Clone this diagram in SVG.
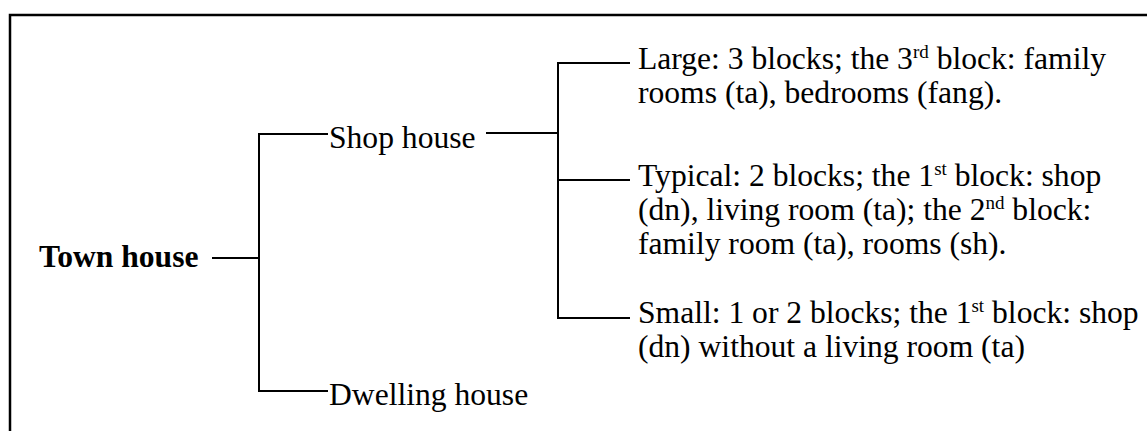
<svg xmlns="http://www.w3.org/2000/svg" width="1147" height="431" viewBox="0 0 1147 431">
<style>
  text { font-family: "Liberation Serif", "Times New Roman", serif; font-size: 31.6px; fill: #000; }
  .b { font-weight: bold; }
  .sup { font-size: 19px; baseline-shift: 11px; }
  .ln { stroke: #000; stroke-width: 2; fill: none; }
</style>
<rect width="1147" height="431" fill="#fff"/>
<path d="M10,431 V15 H1147" stroke="#000" stroke-width="2.5" fill="none"/>
<g id="connectors">
  <path class="ln" d="M212,258 H259"/>
  <path class="ln" d="M328,134 H259 V391 H328"/>
  <path class="ln" d="M486,133 H558"/>
  <path class="ln" d="M630,63 H558 V318 H630"/>
  <path class="ln" d="M558,180 H630"/>
</g>
<g id="town-house"><text class="b" x="39" y="267">Town house</text></g>
<g id="shop-house"><text x="329" y="148">Shop house</text></g>
<g id="dwelling-house"><text x="329" y="405">Dwelling house</text></g>
<g id="large">
  <text x="638" y="69">Large: 3 blocks; the 3<tspan class="sup">rd</tspan> block: family</text>
  <text x="638" y="103">rooms (ta), bedrooms (fang).</text>
</g>
<g id="typical">
  <text x="638" y="186">Typical: 2 blocks; the 1<tspan class="sup">st</tspan> block: shop</text>
  <text x="638" y="220">(dn), living room (ta); the 2<tspan class="sup">nd</tspan> block:</text>
  <text x="638" y="254">family room (ta), rooms (sh).</text>
</g>
<g id="small">
  <text x="638" y="323">Small: 1 or 2 blocks; the 1<tspan class="sup">st</tspan> block: shop</text>
  <text x="638" y="357">(dn) without a living room (ta)</text>
</g>
</svg>
